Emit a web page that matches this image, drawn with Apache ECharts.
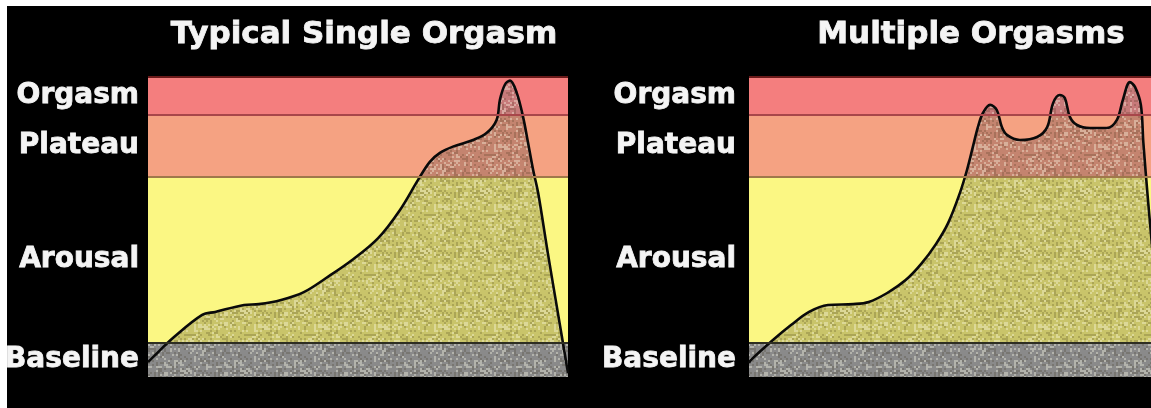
<!DOCTYPE html>
<html>
<head>
<meta charset="utf-8">
<script src="https://cdn.jsdelivr.net/npm/echarts@6/dist/echarts.min.js"></script>
<style>
html, body { margin: 0; padding: 0; background: #000; }
#chart { width: 1151px; height: 408px; }
</style>
</head>
<body>
<div id="chart"></div>
<script>
// chart data
var titles = ['Typical Single Orgasm', 'Multiple Orgasms'];
var bandNames = ['Baseline', 'Arousal', 'Plateau', 'Orgasm'];
var bandLimits = [0, 11.3, 66.7, 87.3, 100];

// x = time (0-100), y = level (0-100)
var singleCurve = [
    [0, 5], [0.95, 6.3], [6.2, 13.3], [12.9, 20.7], [16, 21.7], [22.9, 24], [26.4, 24.3],
    [31.7, 25.7], [37.1, 28.3], [42.4, 33], [48.6, 39], [54.8, 46.3], [60, 55.7],
    [64.3, 65.7], [67.1, 71.7], [69.5, 74.7], [72.6, 76.8], [77.4, 79],
    [80.6, 81.3], [83, 85.7], [83.8, 92.5], [85, 97.5], [86.2, 98.8], [87.8, 94.7],
    [89.3, 86.7], [90.5, 78], [91.7, 69], [92.9, 61.3], [95.2, 41.3], [97.6, 21.3], [100, 1.3]
];
var multipleCurve = [
    [0, 4.7], [0.5, 5.7], [5.7, 12.3], [10, 17.3], [14.3, 21.7], [18.8, 24], [24.8, 24.3],
    [28.5, 25], [32.9, 28], [37.3, 32.3], [41, 37.7], [44.5, 44.3], [47.4, 51.3],
    [50.2, 61.3], [51.9, 69], [53.3, 76.7], [54.5, 83.3], [55.7, 88], [57.4, 90.7],
    [59, 89], [60.2, 83.3], [61.4, 80.7], [64.5, 79], [68.6, 80], [71, 83.3],
    [72.4, 91.3], [74, 94], [75.2, 93], [76.4, 86.7], [78.1, 84], [81.2, 83],
    [85.2, 83], [87.6, 85.7], [89, 92.3], [90.7, 98.3], [91.9, 96.7], [93.3, 90.7],
    [93.9, 78], [95, 59], [96.2, 40], [97.5, 20], [98.8, 1]
];

// styles
var bandFill = ['#8a8a8a', '#fbf783', '#f5a282', '#f47e7e'];
var underFill = ['#8a8a8a', '#c9c46a', '#c4846f', '#c77a7a'];
var bandEdge = ['#2e2e22', '#a0784a', '#a8464a', '#6a1a1a'];
var gridTop = 77, gridHeight = 300;
var gridLefts = [148, 749];
var labelFont = {
    color: '#f4f4f4', fontFamily: 'DejaVu Sans', fontWeight: 'bold',
    textBorderColor: '#f4f4f4', textBorderWidth: 0.8
};

function speckle(base) {
    var c = document.createElement('canvas');
    c.width = 60; c.height = 60;
    var ctx = c.getContext('2d');
    if (base) { ctx.fillStyle = base; ctx.fillRect(0, 0, 60, 60); }
    for (var i = 0; i < 30; i++) {
        for (var j = 0; j < 30; j++) {
            var h = Math.sin(i * 12.9898 + j * 78.233) * 43758.5453;
            h = h - Math.floor(h);
            if (h < 0.22) {
                ctx.fillStyle = 'rgba(255,255,235,0.35)';
                ctx.fillRect(i * 2, j * 2, 2, 2);
            } else if (h > 0.8) {
                ctx.fillStyle = 'rgba(40,30,0,0.18)';
                ctx.fillRect(i * 2, j * 2, 2, 2);
            }
        }
    }
    return { image: c, repeat: 'repeat' };
}

function underGradient() {
    var stops = [];
    for (var i = bandNames.length - 1; i >= 0; i--) {
        var top = (100 - bandLimits[i + 1]) / 100;
        var bottom = (100 - bandLimits[i]) / 100;
        stops.push({ offset: top, color: underFill[i] });
        stops.push({ offset: bottom, color: underFill[i] });
    }
    return new echarts.graphic.LinearGradient(0, gridTop, 0, gridTop + gridHeight, stops, true);
}

var grids = [], xAxes = [], yAxes = [], series = [], titleList = [];
var curves = [singleCurve, multipleCurve];
var labelDist = [9, 13];
var titleCenters = [359, 966];

for (var p = 0; p < 2; p++) {
    // the right panel runs past the edge of the picture
    grids.push({
        left: gridLefts[p], top: gridTop, width: 420, height: gridHeight,
        outerBoundsMode: 'none'
    });
    xAxes.push({ type: 'value', gridIndex: p, min: 0, max: 100, show: false });
    yAxes.push({ type: 'value', gridIndex: p, min: 0, max: 100, show: false });
    titleList.push({
        text: titles[p], left: titleCenters[p], top: 14, textAlign: 'center',
        textStyle: Object.assign({ fontSize: 31 }, labelFont)
    });

    var areas = [], lines = [];
    for (var b = 0; b < bandNames.length; b++) {
        areas.push([
            { name: bandNames[b], yAxis: bandLimits[b],
              itemStyle: { color: b === 0 ? speckle(bandFill[0]) : bandFill[b] } },
            { yAxis: bandLimits[b + 1] }
        ]);
        lines.push({ yAxis: bandLimits[b + 1], lineStyle: { color: bandEdge[b], width: 2, type: 'solid' } });
    }

    series.push({
        type: 'line', xAxisIndex: p, yAxisIndex: p, data: [], z: 1, silent: true,
        markArea: {
            silent: true,
            label: Object.assign({ show: true, position: 'left', distance: labelDist[p], fontSize: 28 }, labelFont),
            data: areas
        },
        markLine: { silent: true, symbol: 'none', label: { show: false }, data: lines }
    });
    series.push({
        type: 'line', xAxisIndex: p, yAxisIndex: p, data: curves[p], z: 2,
        smooth: 0.35, showSymbol: false, silent: true,
        lineStyle: { width: 0, opacity: 0 },
        areaStyle: { color: underGradient(), opacity: 1 }
    });
    series.push({
        type: 'line', xAxisIndex: p, yAxisIndex: p, data: curves[p], z: 3,
        smooth: 0.35, showSymbol: false, silent: true,
        lineStyle: { color: '#0a0a0a', width: 2.6 },
        areaStyle: { color: speckle(null), opacity: 1 }
    });
}

var chart = echarts.init(document.getElementById('chart'));
chart.setOption({
    backgroundColor: '#000',
    animation: false,
    title: titleList,
    grid: grids,
    xAxis: xAxes,
    yAxis: yAxes,
    series: series,
    graphic: [
        { type: 'rect', shape: { x: 0, y: 0, width: 1151, height: 6 }, style: { fill: '#fff' }, z: 100 },
        { type: 'rect', shape: { x: 0, y: 0, width: 7, height: 408 }, style: { fill: '#fff' }, z: 100 }
    ]
});
</script>
</body>
</html>
